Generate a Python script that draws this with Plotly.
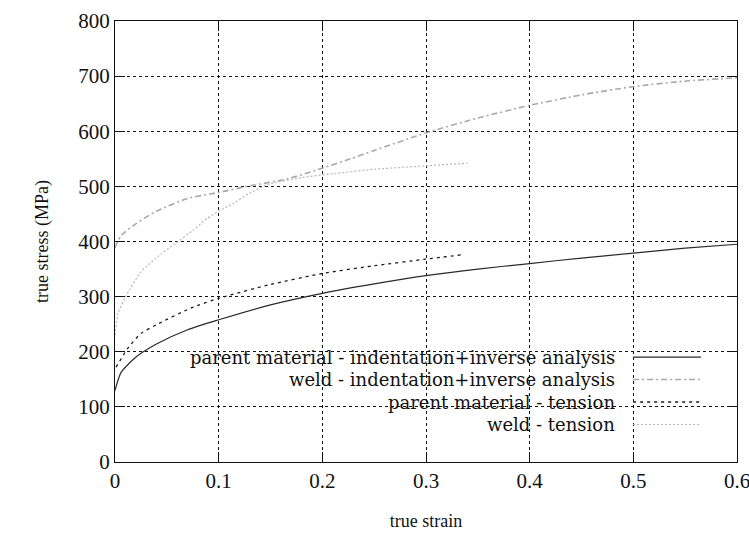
import plotly.graph_objects as go

# ---- data ----
pm_ind_x = [0.0, 0.006, 0.02, 0.04, 0.07, 0.1, 0.15, 0.2, 0.25, 0.3, 0.35, 0.4, 0.45, 0.5, 0.55, 0.6]
pm_ind_y = [130, 163, 190, 214, 240, 258, 285, 306, 323, 338, 350, 360, 370, 379, 388, 395]

weld_ind_x = [0.0, 0.006, 0.02, 0.04, 0.07, 0.1, 0.13, 0.165, 0.195, 0.227, 0.25, 0.3, 0.35, 0.4, 0.45, 0.5, 0.55, 0.6]
weld_ind_y = [389, 411, 432, 455, 478, 489, 501, 513, 530, 550, 565, 597, 624, 647, 666, 681, 691, 697]

pm_ten_x = [0.001, 0.013, 0.025, 0.042, 0.073, 0.1, 0.15, 0.2, 0.25, 0.3, 0.335]
pm_ten_y = [172, 208, 233, 251, 279, 297, 322, 342, 356, 368, 376]

weld_ten_x = [0.0, 0.003, 0.01, 0.025, 0.045, 0.058, 0.075, 0.089, 0.1, 0.114, 0.13, 0.147, 0.18, 0.21, 0.25, 0.29, 0.34]
weld_ten_y = [230, 270, 299, 345, 378, 396, 420, 442, 455, 469, 488, 503, 516, 523, 531, 536, 542]

x_ticks = [0, 0.1, 0.2, 0.3, 0.4, 0.5, 0.6]
x_tick_labels = ["0", "0.1", "0.2", "0.3", "0.4", "0.5", "0.6"]
y_ticks = [0, 100, 200, 300, 400, 500, 600, 700, 800]

series_names = [
    "parent material - indentation+inverse analysis",
    "weld - indentation+inverse analysis",
    "parent material - tension",
    "weld - tension",
]

styles = [
    dict(color="#2a2a2a", width=1.2, dash="solid"),
    dict(color="#a9a9a9", width=1.6, dash="6px,3px,2px,3px"),
    dict(color="#1a1a1a", width=1.3, dash="3px,4px"),
    dict(color="#b8b8b8", width=1.2, dash="2px,2px"),
]

data = [(pm_ind_x, pm_ind_y), (weld_ind_x, weld_ind_y), (pm_ten_x, pm_ten_y), (weld_ten_x, weld_ten_y)]

FONT = "Liberation Serif"
LEG_FONT = "DejaVu Serif"

fig = go.Figure()
for (xs, ys), name, st in zip(data, series_names, styles):
    fig.add_trace(go.Scatter(x=xs, y=ys, mode="lines", name=name,
                             line=dict(color=st["color"], width=st["width"], dash=st["dash"], shape="spline", smoothing=0.6),
                             showlegend=False))

# legend (gnuplot-style: right-aligned text, sample on the right)
row_y = [0.238, 0.187, 0.136, 0.085]
for name, st, yy in zip(series_names, styles, row_y):
    fig.add_annotation(text=name, xref="paper", yref="paper", x=0.806, y=yy,
                       xanchor="right", yanchor="middle", showarrow=False, borderpad=0,
                       font=dict(family=LEG_FONT, size=18, color="#111"))
    fig.add_shape(type="line", xref="paper", yref="paper", x0=0.833, x1=0.942, y0=yy, y1=yy,
                  line=dict(color=st["color"], width=st["width"], dash=st["dash"]))

axis_common = dict(showline=True, linecolor="#111", linewidth=1.3, mirror="ticks",
                   ticks="inside", ticklen=10, tickcolor="#111", tickwidth=1.3,
                   showgrid=True, gridcolor="#111", gridwidth=1, griddash="3px,3px",
                   zeroline=False, automargin=False, ticklabeloverflow="allow",
                   tickfont=dict(family=FONT, size=21, color="#111"))

fig.update_xaxes(range=[0, 0.6], tickvals=x_ticks, ticktext=x_tick_labels,
                 title=dict(text="true strain", font=dict(family=FONT, size=18, color="#111"), standoff=22),
                 **axis_common)
fig.update_yaxes(range=[0, 800], tickvals=y_ticks,
                 title=dict(text="true stress (MPa)", font=dict(family=FONT, size=18, color="#111"), standoff=24),
                 **axis_common)

fig.update_layout(width=749, height=539, margin=dict(l=115, r=12, t=21, b=77),
                  paper_bgcolor="white", plot_bgcolor="white",
                  font=dict(family=FONT, color="#111"))

fig.write_html("out.html")
